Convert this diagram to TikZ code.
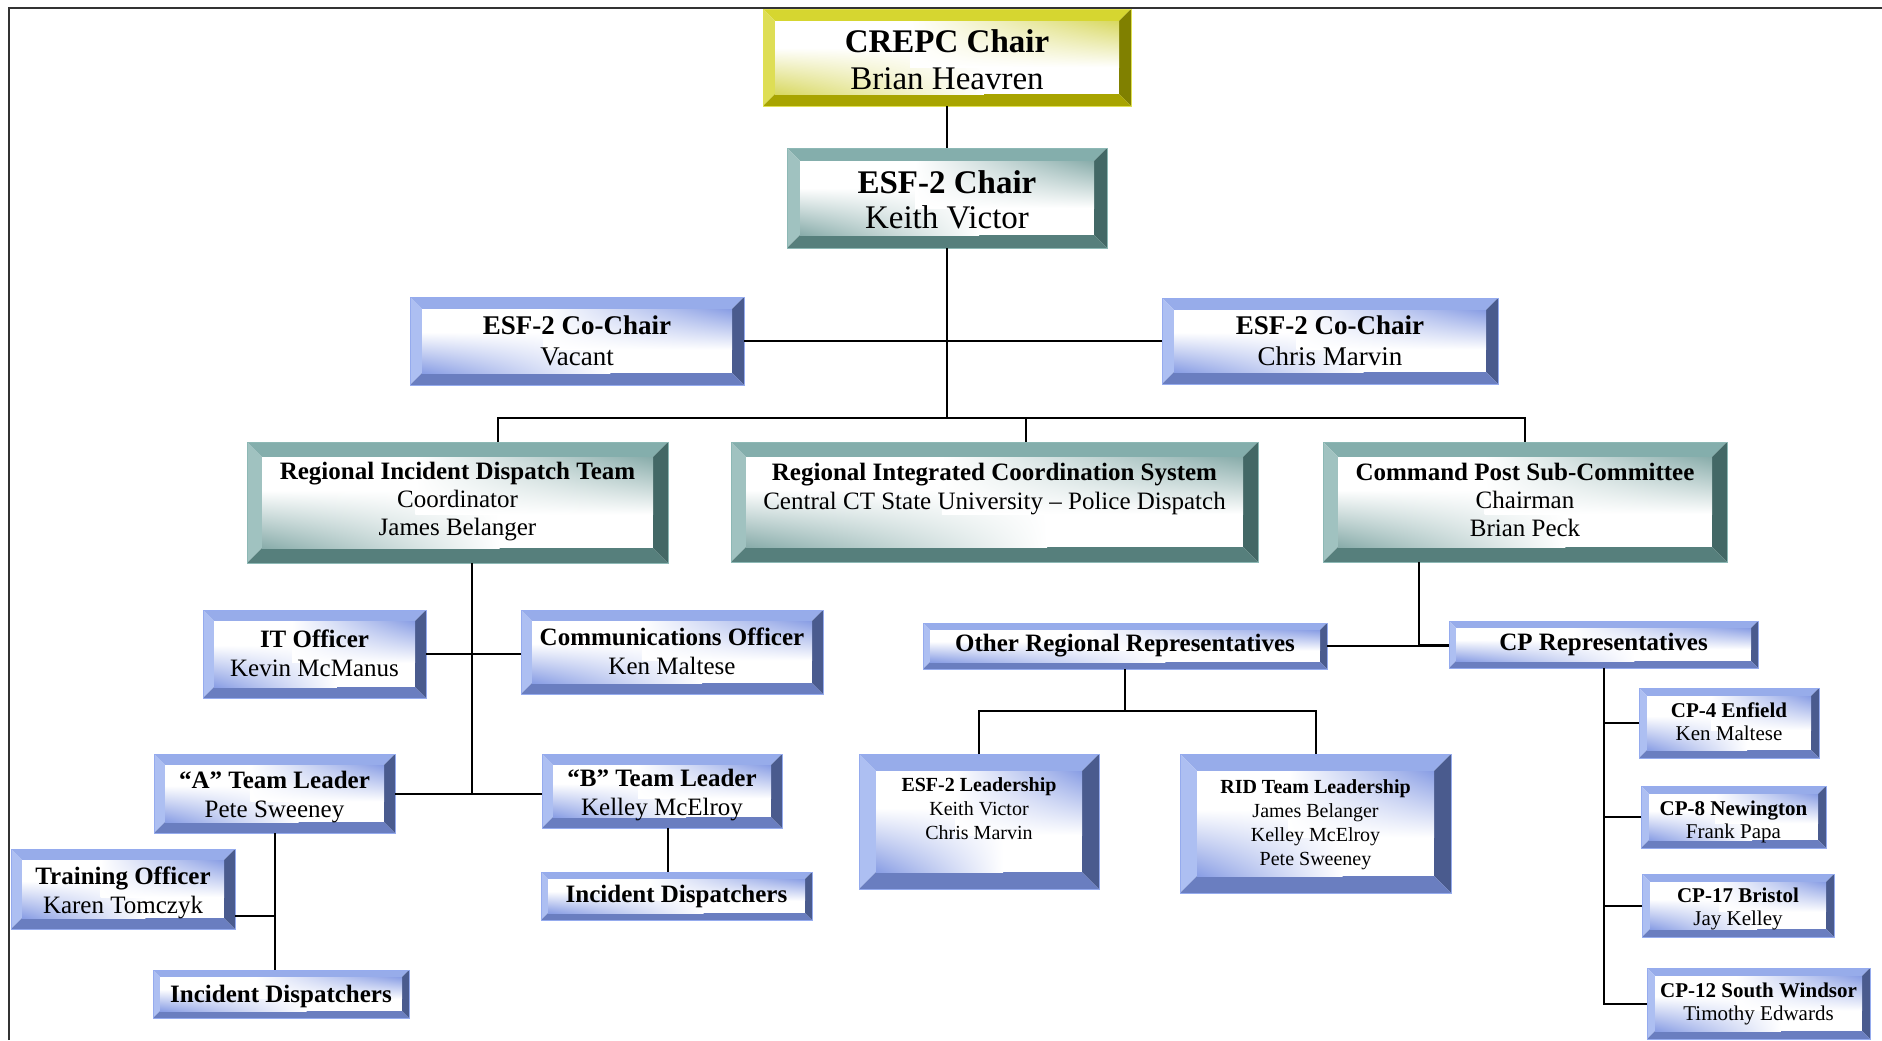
\documentclass[tikz,border=0pt]{standalone}
\usepackage{fontspec}
\setmainfont{Liberation Serif}
\usetikzlibrary{calc,shadings}
% colour schemes: T top, L left, R right, B bottom bevel; O outline; F face tint
\definecolor{yelT}{HTML}{D6D630}\definecolor{yelL}{HTML}{DEDE55}\definecolor{yelR}{HTML}{808000}
\definecolor{yelB}{HTML}{A8A400}\definecolor{yelO}{HTML}{E0E050}\definecolor{yelF}{HTML}{D8D860}
\definecolor{tealT}{HTML}{84AEAC}\definecolor{tealL}{HTML}{A0C2C0}\definecolor{tealR}{HTML}{436866}
\definecolor{tealB}{HTML}{567F7C}\definecolor{tealO}{HTML}{8DB8B5}\definecolor{tealF}{HTML}{88ACAA}
\definecolor{bluT}{HTML}{97ACEA}\definecolor{bluL}{HTML}{ADBFF2}\definecolor{bluR}{HTML}{4A5B8E}
\definecolor{bluB}{HTML}{6A7EC0}\definecolor{bluO}{HTML}{95ABEE}\definecolor{bluF}{HTML}{889DE4}
\newdimen\orgbevlen
\pgfkeys{/org/sch/.store in=\orgsch, /org/bev/.store in=\orgbev,
  /org/fs/.store in=\orgfs, /org/bs/.store in=\orgbs,
  /org/sch=blu, /org/bev=11, /org/fs=12.5, /org/bs=14.5}
\tikzset{
  obox/.style={rectangle, draw=none, inner sep=0pt, outer sep=0pt},
  otext/.style={align=center, inner sep=0pt, outer sep=0pt, text=black},
  conn/.style={draw=black, line width=1pt},
  frameline/.style={draw=black!80, line width=1.3pt}
}
% #1 name, #2 options, #3 x1, #4 y1, #5 x2, #6 y2, #7 text centre y, #8 text
\newcommand\orgbox[8]{%
\begingroup
\pgfqkeys{/org}{#2}%
\pgfmathsetlength\orgbevlen{\orgbev*0.5pt}%
\node[obox, minimum width={(#5-#3)*0.5pt}, minimum height={(#6-#4)*0.5pt}] (#1) at ({(#3+#5)/2},{(#4+#6)/2}) {};
\fill[\orgsch T] (#1.north west) -- (#1.north east) -- ([xshift=-\orgbevlen,yshift=-\orgbevlen]#1.north east) -- ([xshift=\orgbevlen,yshift=-\orgbevlen]#1.north west) -- cycle;
\fill[\orgsch L] (#1.north west) -- (#1.south west) -- ([xshift=\orgbevlen,yshift=\orgbevlen]#1.south west) -- ([xshift=\orgbevlen,yshift=-\orgbevlen]#1.north west) -- cycle;
\fill[\orgsch R] (#1.north east) -- (#1.south east) -- ([xshift=-\orgbevlen,yshift=\orgbevlen]#1.south east) -- ([xshift=-\orgbevlen,yshift=-\orgbevlen]#1.north east) -- cycle;
\fill[\orgsch B] (#1.south west) -- (#1.south east) -- ([xshift=-\orgbevlen,yshift=\orgbevlen]#1.south east) -- ([xshift=\orgbevlen,yshift=\orgbevlen]#1.south west) -- cycle;
\fill[white] ([xshift=\orgbevlen,yshift=\orgbevlen]#1.south west) rectangle ([xshift=-\orgbevlen,yshift=-\orgbevlen]#1.north east);
\shade[lower left=\orgsch F, upper left=white, upper right=white, lower right=white]
  ([xshift=\orgbevlen,yshift=\orgbevlen]#1.south west) rectangle ($(#1.center)!0.2!(#1.north east)$);
\shade[upper right=\orgsch F, upper left=white, lower left=white, lower right=white]
  ($(#1.center)!0.2!(#1.south west)$) rectangle ([xshift=-\orgbevlen,yshift=-\orgbevlen]#1.north east);
\draw[\orgsch O, line width=0.5pt] (#1.south west) rectangle (#1.north east);
\node[otext, font=\fontsize{\orgfs}{\orgbs}\selectfont] (#1-t) at ({(#3+#5)/2},#7) {#8};
\endgroup}

\begin{document}
\begin{tikzpicture}[x=0.5pt, y=-0.5pt]
\useasboundingbox (0,0) rectangle (1882,1040);
\fill[white] (0,0) rectangle (1882,1040);
\draw[frameline] (9,1040) -- (9,8) -- (1882,8);

\orgbox{crepc}{sch=yel, bev=12, fs=16.5, bs=18.5}{763}{9}{1131}{106}{64}{\strut\textbf{CREPC Chair}\\\strut Brian Heavren}
\orgbox{esf2chair}{sch=teal, bev=13, fs=16.5, bs=17.5}{787}{148}{1107}{248}{203.5}{\strut\textbf{ESF-2 Chair}\\\strut Keith Victor}
\orgbox{cochair1}{sch=blu, bev=12, fs=13.5, bs=15.5}{410}{297}{744}{385}{344}{\strut\textbf{ESF-2 Co-Chair}\\\strut Vacant}
\orgbox{cochair2}{sch=blu, bev=12, fs=13.5, bs=15.5}{1162}{298}{1498}{384}{344}{\strut\textbf{ESF-2 Co-Chair}\\\strut Chris Marvin}

\orgbox{rid}{sch=teal, bev=15, fs=12.5, bs=14}{247}{442}{668}{563}{502}{\strut\textbf{Regional Incident Dispatch Team}\\\strut Coordinator\\\strut James Belanger}
\orgbox{rics}{sch=teal, bev=15, fs=12.5, bs=14.5}{731}{442}{1258}{562}{489}{\strut\textbf{Regional Integrated Coordination System}\\\strut Central CT State University – Police Dispatch}
\orgbox{cpsc}{sch=teal, bev=15, fs=12.5, bs=14}{1323}{442}{1727}{562}{503}{\strut\textbf{Command Post Sub-Committee}\\\strut Chairman\\\strut Brian Peck}

\orgbox{it}{sch=blu, bev=11}{203}{610}{426}{698}{656}{\strut\textbf{IT Officer}\\\strut Kevin McManus}
\orgbox{comm}{sch=blu, bev=11}{521}{610}{823}{694}{654}{\strut\textbf{Communications Officer}\\\strut Ken Maltese}
\orgbox{ateam}{sch=blu, bev=11}{154}{754}{395}{833}{797}{\strut\textbf{“A” Team Leader}\\\strut Pete Sweeney}
\orgbox{bteam}{sch=blu, bev=11}{542}{754}{782}{828}{795}{\strut\textbf{“B” Team Leader}\\\strut Kelley McElroy}
\orgbox{training}{sch=blu, bev=11}{11}{849}{235}{929}{893}{\strut\textbf{Training Officer}\\\strut Karen Tomczyk}
\orgbox{disp1}{sch=blu, bev=7}{153}{970}{409}{1018}{997}{\strut\textbf{Incident Dispatchers}}
\orgbox{disp2}{sch=blu, bev=7}{541}{872}{812}{920}{897}{\strut\textbf{Incident Dispatchers}}

\orgbox{other}{sch=blu, bev=7}{923}{623}{1327}{669}{646}{\strut\textbf{Other Regional Representatives}}
\orgbox{cpreps}{sch=blu, bev=7}{1449}{621}{1758}{668}{645}{\strut\textbf{CP Representatives}}
\orgbox{esf2lead}{sch=blu, bev=17, fs=10, bs=12}{859}{754}{1099}{889}{811}{\strut\textbf{ESF-2 Leadership}\\\strut Keith Victor\\\strut Chris Marvin}
\orgbox{ridlead}{sch=blu, bev=17, fs=10, bs=12}{1180}{754}{1451}{893}{825}{\strut\textbf{RID Team Leadership}\\\strut James Belanger\\\strut Kelley McElroy\\\strut Pete Sweeney}
\orgbox{cp4}{sch=blu, bev=8, fs=10.5, bs=11.5}{1639}{688}{1819}{758}{724}{\strut\textbf{CP-4 Enfield}\\\strut Ken Maltese}
\orgbox{cp8}{sch=blu, bev=8, fs=10.5, bs=11.5}{1641}{786}{1826}{848}{822}{\strut\textbf{CP-8 Newington}\\\strut Frank Papa}
\orgbox{cp17}{sch=blu, bev=8, fs=10.5, bs=11.5}{1642}{874}{1834}{937}{909}{\strut\textbf{CP-17 Bristol}\\\strut Jay Kelley}
\orgbox{cp12}{sch=blu, bev=8, fs=10.5, bs=11.5}{1647}{968}{1870}{1039}{1004}{\strut\textbf{CP-12 South Windsor}\\\strut Timothy Edwards}

% connectors
\coordinate (bus) at (947,418);
\coordinate (ridbus) at (472,793);
\coordinate (obus) at (1125,711);
\draw[conn] (crepc) -- (esf2chair);
\draw[conn] (cochair1) -- (cochair2);
\draw[conn] (esf2chair.south) -- (bus);
\draw[conn] ([xshift=20.25pt]rid.north) |- (bus) -| ([xshift=15.75pt]rics.north);
\draw[conn] (bus) -| (cpsc.north);
\draw[conn] ([xshift=7.25pt]rid.south) -- (ridbus);
\draw[conn] (it.east) -- (it.east -| comm.west);
\draw[conn] (ateam.east) -- (ateam.east -| bteam.west);
\draw[conn] (ateam.south) -- (ateam.south |- disp1.north);
\draw[conn] ([yshift=-13.5pt]training.east) -- ([yshift=-13.5pt]training.east -| ateam.south);
\draw[conn] ([xshift=3pt]bteam.south) -- ([xshift=3pt]bteam.south |- disp2.north);
\draw[conn] ([xshift=-53pt]cpsc.south) |- (cpreps.west);
\draw[conn] (other.east) -- (other.east -| cpreps.west);
\draw[conn] (other.south) -- (obus);
\draw[conn] (esf2lead.north) |- (obus) -| (ridlead.north);
\draw[conn] (cpreps.south) |- (cp12.west);
\draw[conn] (cp4.west) -- (cp4.west -| cpreps.south);
\draw[conn] (cp8.west) -- (cp8.west -| cpreps.south);
\draw[conn] (cp17.west) -- (cp17.west -| cpreps.south);
\end{tikzpicture}
\end{document}
